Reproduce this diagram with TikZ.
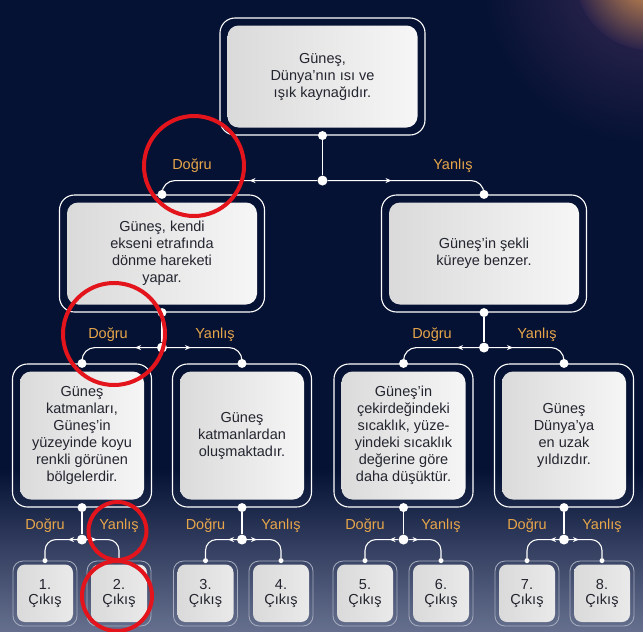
\documentclass[tikz,border=0pt]{standalone}
\usepackage{fontspec}
\setmainfont{Liberation Sans}
\usetikzlibrary{positioning}
\usetikzlibrary{arrows.meta}
\usetikzlibrary{calc}

\definecolor{navy}{HTML}{051233}
\definecolor{navyB}{HTML}{323D5F}
\definecolor{navyD}{HTML}{66708E}
\definecolor{gold}{HTML}{E8A64A}
\definecolor{ink}{HTML}{23252F}
\definecolor{ring}{HTML}{E3141B}
\definecolor{glow}{HTML}{E59A4E}
\definecolor{plum}{HTML}{3A2A55}
\definecolor{frame}{HTML}{A7ADBF}

\newcommand\cardfont{\fontsize{14.5}{17}\selectfont}
\newcommand\exitfont{\fontsize{14.5}{15}\selectfont}
\newcommand\answerfont{\fontsize{14.5}{16}\selectfont}

\begin{document}
\begin{tikzpicture}[x=1pt,y=-1pt,
  card/.style={draw=white, line width=1.1pt, rounded corners=15pt, align=center,
     text=ink, font=\cardfont, inner sep=0pt,
     path picture={\shade[left color=black!15, middle color=white, right color=black!3, rounded corners=11pt]
        ($(path picture bounding box.north west)+(7.5pt,-7.5pt)$) rectangle
        ($(path picture bounding box.south east)+(-7.5pt,7.5pt)$);}},
  cardwide/.style={card, minimum width=205pt, minimum height=117pt},
  cardtall/.style={card, minimum width=139pt, minimum height=143pt},
  exitcard/.style={draw=frame, line width=0.8pt, rounded corners=10pt, align=center,
     text=ink, font=\exitfont, inner sep=0pt, minimum width=64pt, minimum height=65pt,
     path picture={\shade[left color=black!15, middle color=black!3, right color=black!8, rounded corners=8pt]
        ($(path picture bounding box.north west)+(4pt,-3.5pt)$) rectangle
        ($(path picture bounding box.south east)+(-4pt,4pt)$);}},
  joint/.style={circle, fill=white, inner sep=0pt, minimum size=9pt},
  hubdot/.style={joint, minimum size=10pt},
  tinydot/.style={joint, minimum size=5pt},
  wire/.style={white, line width=1.1pt},
  outarrow/.style={wire, -{Stealth[length=6pt, width=5pt]}},
  answer/.style={text=gold, font=\answerfont, inner sep=0pt},
  redring/.style={ring, line width=4pt}
]

%background
\fill[navy] (0,0) rectangle (643,470);
\shade[top color=navy, bottom color=navyB] (0,469) rectangle (643,545);
\shade[top color=navyB, bottom color=navyD] (0,544) rectangle (643,632);
\begin{scope}
  \clip (0,0) rectangle (643,632);
  \shade[inner color=plum, outer color=navy] (650,-25) circle[radius=170];
  \shade[inner color=glow, outer color=plum!70!navy] (650,-25) circle[radius=75];
\end{scope}
\useasboundingbox (0,0) rectangle (643,632);

%questions
\node[cardwide] (q0) at (322.5,76.5) {Güneş,\\Dünya’nın ısı ve\\ışık kaynağıdır.};
\node[cardwide] (q1) at (162,253.5) {Güneş, kendi\\ekseni etrafında\\dönme hareketi\\yapar.};
\node[cardwide] (q2) at (484,253.5) {Güneş’in şekli\\küreye benzer.};

\foreach \x/\name/\txt in {82/q11/{Güneş\\katmanları,\\Güneş’in\\yüzeyinde koyu\\renkli görünen\\bölgelerdir.},
    242/q12/{Güneş\\katmanlardan\\oluşmaktadır.},
    403.5/q21/{Güneş’in\\çekirdeğindeki\\sıcaklık, yüze-\\yindeki sıcaklık\\değerine göre\\daha düşüktür.},
    564/q22/{Güneş\\Dünya’ya\\en uzak\\yıldızdır.}}{
    \node[cardtall] (\name) at (\x,435.5) {\txt};
}

%exits
\foreach \i/\x in {1/45,2/119,3/205.5,4/281,5/365,6/441,7/527,8/602}{
    \node[exitcard] (e\i) at (\x,593.5) {\i.\\Çıkış};
}

%first split
\node[joint] (q0-s) at (q0.south) {};
\path (q0.south) ++(0,45) node[hubdot] (q0-j) {};
\node[joint] (q1-n) at (q1.north) {};
\node[joint] (q2-n) at (q2.north) {};
\coordinate (q0-l) at ($(q0-j)+(-73,0)$);
\coordinate (q0-r) at ($(q0-j)+(69,0)$);
\draw[wire] (q0-s) -- (q0-j);
\draw[wire, rounded corners=13pt] (q1-n) |- (q0-j) -| (q2-n);
\draw[outarrow] (q0-j) -- (q0-l);
\draw[outarrow] (q0-j) -- (q0-r);
\node[answer] (q0-d) at (192,166) {Doğru};
\node[answer] (q0-y) at (453,166) {Yanlış};

%second split
\foreach \p/\a/\b/\dd/\yy in {q1/q11/q12/108/215, q2/q21/q22/432/537}{
    \node[joint] (\p-s) at (\p.south) {};
    \path (\p.south) ++(0,35) node[hubdot] (\p-j) {};
    \node[joint] (\a-n) at (\a.north) {};
    \node[joint] (\b-n) at (\b.north) {};
    \coordinate (\p-l) at ($(\p-j)+(-27,0)$);
    \coordinate (\p-r) at ($(\p-j)+(29,0)$);
    \draw[wire] (\p-s) -- (\p-j);
    \draw[wire, rounded corners=13pt] (\a-n) |- (\p-j) -| (\b-n);
    \draw[outarrow] (\p-j) -- (\p-l);
    \draw[outarrow] (\p-j) -- (\p-r);
    \node[answer] (\p-d) at (\dd,335) {Doğru};
    \node[answer] (\p-y) at (\yy,335) {Yanlış};
}

%last split
\foreach \p/\a/\b in {q11/e1/e2, q12/e3/e4, q21/e5/e6, q22/e7/e8}{
    \node[joint] (\p-s) at (\p.south) {};
    \path (\p.south) ++(0,32) node[hubdot] (\p-j) {};
    \node[tinydot] (\a-n) at (\a.north) {};
    \node[tinydot] (\b-n) at (\b.north) {};
    \coordinate (\p-l) at ($(\p-j)+(-14,0)$);
    \coordinate (\p-r) at ($(\p-j)+(15,0)$);
    \draw[wire] (\p-s) -- (\p-j);
    \draw[wire, rounded corners=11pt] (\a-n) |- (\p-j) -| (\b-n);
    \draw[outarrow] (\p-j) -- (\p-l);
    \draw[outarrow] (\p-j) -- (\p-r);
    \path (\a.north) ++(0,-35) node[answer] (\p-d) {Doğru};
    \path (\b.north) ++(0,-35) node[answer] (\p-y) {Yanlış};
}

%red marks
\foreach \x/\y/\r in {194/166/50, 114/334/51, 117.5/531/29, 117/596/35}{
    \draw[redring] (\x,\y) circle[radius=\r];
}

\end{tikzpicture}
\end{document}
